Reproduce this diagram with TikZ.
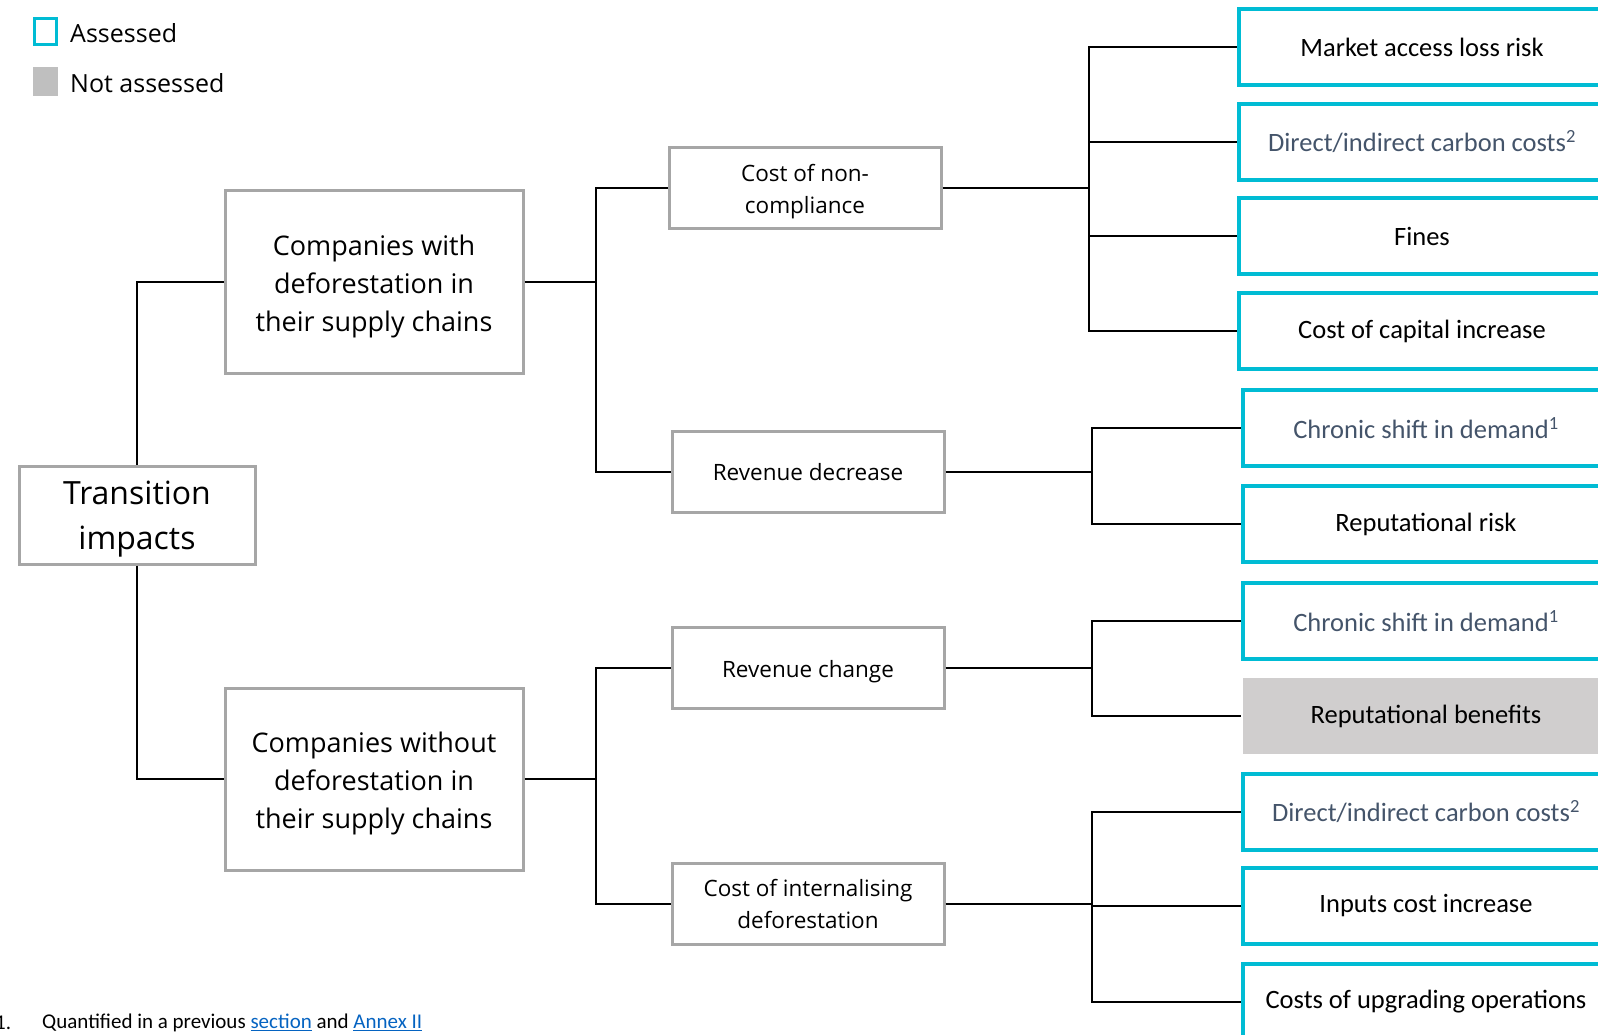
\documentclass[tikz,border=0pt]{standalone}
\usepackage{fontspec}
\setmainfont{Open Sans}
\newfontfamily\leaffont{Carlito}
\definecolor{assessedcolor}{RGB}{0, 188, 212}
\definecolor{boxgray}{RGB}{166, 166, 166}
\definecolor{notassessedcolor}{RGB}{208, 206, 206}
\definecolor{legendgray}{RGB}{191, 191, 191}
\definecolor{slatetext}{RGB}{68, 84, 106}
\definecolor{linkblue}{RGB}{5, 99, 193}
\newcommand{\topgap}[1]{\raisebox{#1}{\vphantom{Tl}}}

\begin{document}
\begin{tikzpicture}[x=1pt, y=-1pt,
    box/.style={draw = boxgray, line width = 3pt, fill = white, align = center, inner sep = 0pt},
    leaf/.style={draw = assessedcolor, line width = 4pt, anchor = west, inner sep = 0pt,
        minimum width = 366, minimum height = 76, font = \leaffont\fontsize{26.5}{31}\selectfont},
    plain/.style={text = black},
    slate/.style={text = slatetext},
    grayleaf/.style={draw = none, fill = notassessedcolor, text = black},
    arc/.style={draw, line width = 1.6pt, black}
    ]

    \useasboundingbox (0,0) rectangle (1598,1035);

    % Legend
    \node[draw = assessedcolor, line width = 3pt, minimum width = 22, minimum height = 26, inner sep = 0pt] (legA) at (45,32) {};
    \node[fill = legendgray, minimum width = 25, minimum height = 29, inner sep = 0pt] (legN) at (45,82) {};
    \node[anchor = west, inner sep = 0pt, font = \fontsize{25}{30}\selectfont] (legAtext) at (70,33) {Assessed};
    \node[anchor = west, inner sep = 0pt, font = \fontsize{25}{30}\selectfont] (legNtext) at (70,83) {Not assessed};

    % Define main boxes
    \node[box, minimum width = 236, minimum height = 98, font = \fontsize{32}{45}\selectfont] (tr) at (137,515) {\topgap{7pt}Transition\\impacts};
    \foreach \nodename/\ypos/\txt in {cw/282/with, cwo/779/without} {
        \node[box, minimum width = 298, minimum height = 182, font = \fontsize{27}{38}\selectfont] (\nodename) at (374,\ypos) {\topgap{8pt}Companies \txt\\deforestation in\\their supply chains};
    }
    \foreach \nodename/\xpos/\ypos/\txt in {cnc/805/188/{\topgap{8pt}Cost of non-\\compliance}, rd/808/472/{Revenue decrease}, rc/808/668/{\topgap{8pt}Revenue change}, ci/808/904/{Cost of internalising\\deforestation}} {
        \node[box, minimum width = 272, minimum height = 81, font = \fontsize{22.5}{32}\selectfont] (\nodename) at (\xpos,\ypos) {\txt};
    }

    % Define leaves
    \foreach [count = \i] \xpos/\ypos/\kind/\txt in {
        1237/47/plain/{Market access loss risk},
        1237/142/slate/{Direct/indirect carbon costs\textsuperscript{2}},
        1237/236/plain/{Fines},
        1237/331/plain/{Cost of capital increase},
        1241/428/slate/{Chronic shift in demand\textsuperscript{1}},
        1241/524/plain/{Reputational risk},
        1241/621/slate/{Chronic shift in demand\textsuperscript{1}},
        1241/716/grayleaf/{Reputational benefits},
        1241/812/slate/{Direct/indirect carbon costs\textsuperscript{2}},
        1241/906/plain/{Inputs cost increase},
        1241/1002/plain/{Costs of upgrading operations}
    } {
        \node[leaf, \kind] (m\i) at (\xpos,\ypos) {\txt};
    }

    % Define junctions
    \foreach \jname/\jx/\jy in {j1/596/282, j2/596/779, j3/1089/188, j4/1092/472, j5/1092/668, j6/1092/904} {
        \coordinate (\jname) at (\jx,\jy);
    }

    % Define edges
    \draw[arc] (tr.north) |- (cw.west);
    \draw[arc] (tr.south) |- (cwo.west);
    \foreach \parent/\jname/\children in {cw/j1/{cnc,rd}, cwo/j2/{rc,ci}, cnc/j3/{m1,m2,m3,m4}, rd/j4/{m5,m6}, rc/j5/{m7,m8}, ci/j6/{m9,m10,m11}} {
        \draw[arc] (\parent.east) -- (\jname);
        \foreach \child in \children {
            \draw[arc] (\jname) |- (\child.west);
        }
    }

    % Footnote
    \node[anchor = west, inner sep = 0pt, font = \leaffont\fontsize{21}{25}\selectfont] (fnnum) at (-5,1023) {1.};
    \node[anchor = west, inner sep = 0pt, font = \leaffont\fontsize{21}{25}\selectfont] (fn) at (42,1023) {Quantified in a previous \textcolor{linkblue}{\underline{section}} and \textcolor{linkblue}{\underline{Annex II}}};
\end{tikzpicture}
\end{document}
